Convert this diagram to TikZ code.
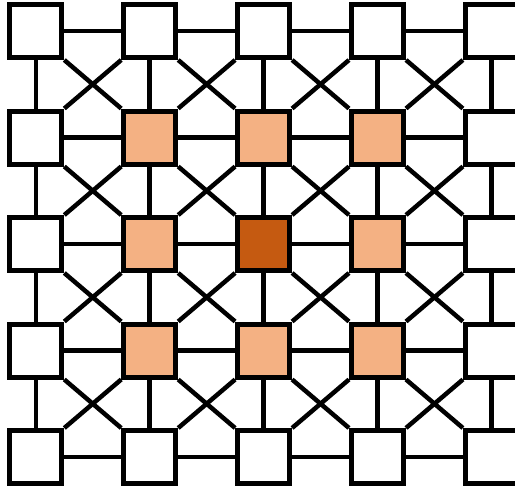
\documentclass[tikz,border=0pt]{standalone}
\usepackage{xcolor}
\usepackage{tikz}
\usetikzlibrary{backgrounds}
\definecolor{lightorange}{RGB}{244,177,131}
\definecolor{darkorange}{RGB}{197,90,17}
\tikzset{
  cell/.style={rectangle,draw=black,line width=5pt,fill=white,
               minimum width=52pt,minimum height=53pt,inner sep=0pt},
  ringcell/.style={cell,fill=lightorange},
  hubcell/.style={cell,fill=darkorange},
  link/.style={line width=4.5pt,draw=black},
}

\begin{document}
\begin{tikzpicture}[x=1pt,y=1pt]
  \useasboundingbox (0,0) rectangle (515,-488);
  \clip (0,0) rectangle (515,-488);
  % squares, column \i, row \j
  \foreach \i in {0,...,4}
    \foreach \j in {0,...,4}{
      \def\kind{cell}
      \ifnum\i>0 \ifnum\i<4 \ifnum\j>0 \ifnum\j<4 \def\kind{ringcell}\fi\fi\fi\fi
      \ifnum\i=2 \ifnum\j=2 \def\kind{hubcell}\fi\fi
      \node[\kind] (sq-\i-\j) at (35.8+113.9*\i,-31-106.5*\j) {};
    }
  \begin{scope}[on background layer]
    % straight links
    \foreach \i in {0,...,3}
      \foreach \j in {0,...,4}{
        \pgfmathtruncatemacro\k{\i+1}
        \draw[link] (sq-\i-\j.center) -- (sq-\k-\j.center);
        \draw[link] (sq-\j-\i.center) -- (sq-\j-\k.center);
      }
    % crossing links
    \foreach \i in {0,...,3}
      \foreach \j in {0,...,3}{
        \pgfmathtruncatemacro\k{\i+1}
        \pgfmathtruncatemacro\l{\j+1}
        \draw[link] (sq-\i-\j.south east) -- (sq-\k-\l.north west);
        \draw[link] (sq-\k-\j.south west) -- (sq-\i-\l.north east);
      }
  \end{scope}
\end{tikzpicture}
\end{document}
